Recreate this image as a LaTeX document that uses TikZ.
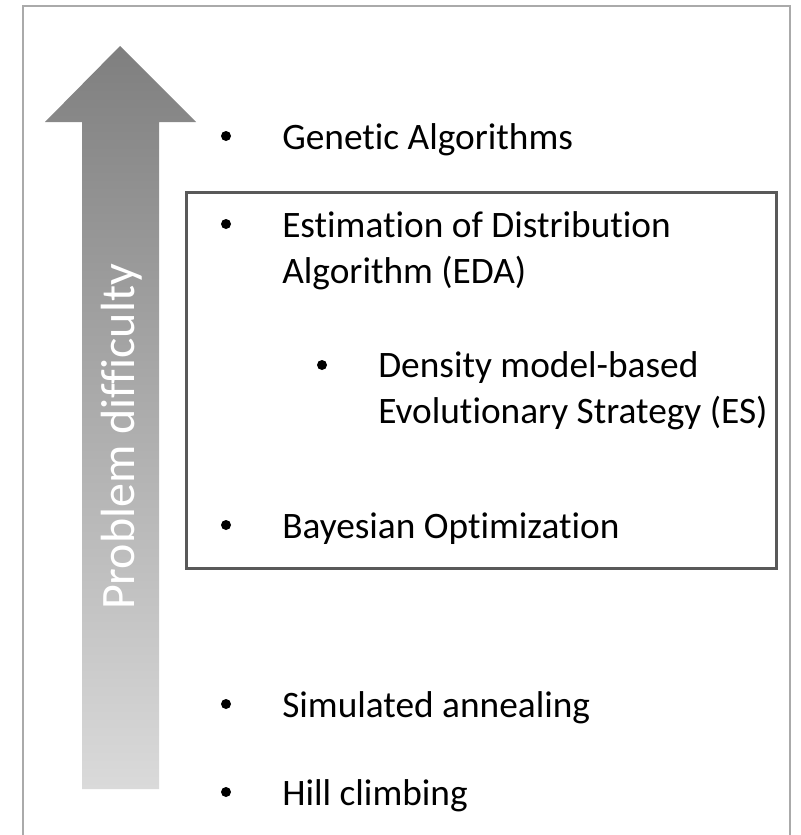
\documentclass[tikz,border=0pt]{standalone}
\usepackage{fontspec}
\setmainfont[Ligatures=NoCommon]{Carlito}
\definecolor{framegray}{HTML}{AAAAAA}
\definecolor{boxgray}{HTML}{595959}
\definecolor{arrowtop}{HTML}{7F7F7F}
\definecolor{arrowbot}{HTML}{DADADA}
\begin{document}
\begin{tikzpicture}[x=0.75pt,y=-0.75pt,
  item/.style={anchor=base west, inner sep=0pt, font=\fontsize{28}{34.5}\selectfont, align=left, text=black},
  dot/.style={circle, fill=black, inner sep=0pt, minimum size=7.5pt},
  vlabel/.style={rotate=90, text=white, inner sep=0pt, font=\fontsize{36}{40}\selectfont}]
\useasboundingbox (0,0) rectangle (800,835);
% outer frame (open at bottom)
\draw[framegray, line width=1.5pt] (23,835) -- (23,6) -- (790,6) -- (790,835);
% gradient arrow
\shade[top color=arrowtop, bottom color=arrowbot]
  (120,46) -- (196,122) -- (159,122) -- (159,789) -- (82,789) -- (82,122) -- (45,122) -- cycle;
\node[vlabel] (lbl) at (122,437) {Problem difficulty};
% inner box
\node[draw=boxgray, line width=2.25pt, inner sep=0pt, minimum width=442.5pt, minimum height=282pt] (box) at (481,380) {};
% items
\node[dot] (d1) at (226,136) {};
\node[item] (t1) at (282,149) {Genetic Algorithms};
\node[dot] (d2) at (226,224) {};
\node[item] (t2) at (282,283) {Estimation of Distribution\\Algorithm (EDA)};
\node[dot] (d3) at (322,365) {};
\node[item] (t3) at (378,423) {Density model-based\\Evolutionary Strategy (ES)};
\node[dot] (d4) at (226,525) {};
\node[item] (t4) at (282,538) {Bayesian Optimization};
\node[dot] (d5) at (226,704) {};
\node[item] (t5) at (282,717) {Simulated annealing};
\node[dot] (d6) at (226,792) {};
\node[item] (t6) at (282,805) {Hill climbing};
\end{tikzpicture}
\end{document}
